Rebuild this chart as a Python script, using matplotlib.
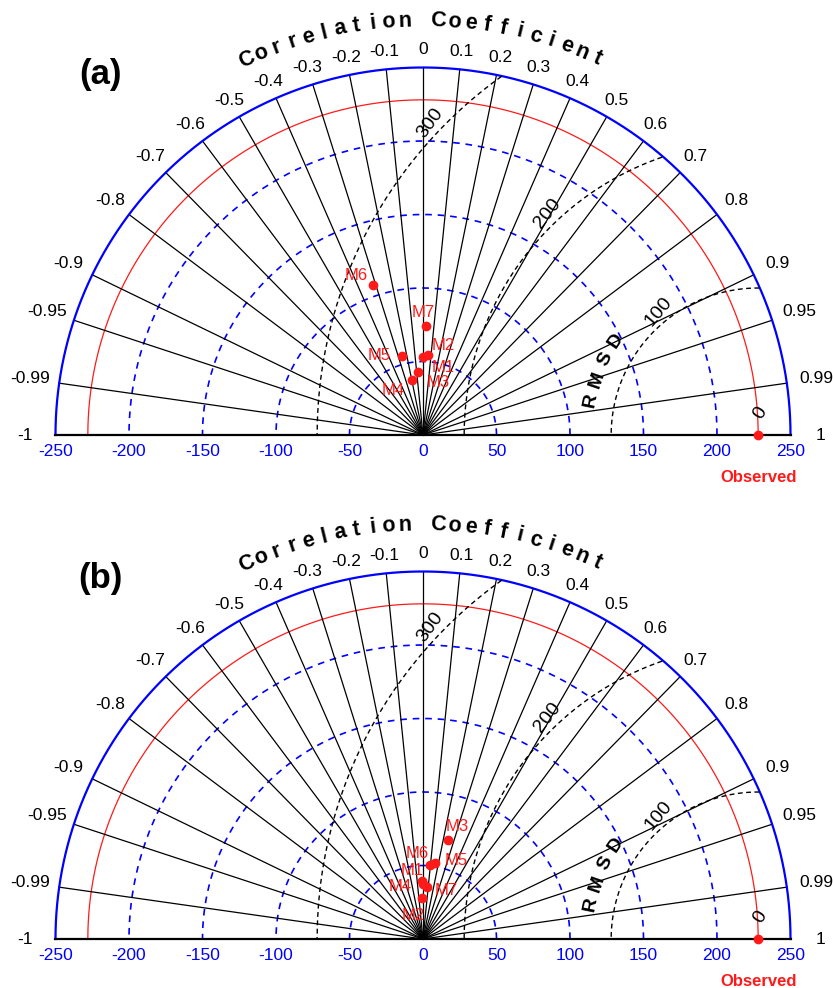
import numpy as np
import matplotlib
matplotlib.use("Agg")
import matplotlib.pyplot as plt

plt.rcParams['font.family'] = ['Liberation Sans', 'DejaVu Sans']

# data
models = ["M1", "M2", "M3", "M4", "M5", "M6", "M7"]
ref_std = 228.0

std_a = [52.8, 54.5, 43.1, 38.2, 55.9, 107.5, 74.4]
corr_a = [0.004, 0.059, -0.074, -0.202, -0.259, -0.316, 0.027]

std_b = [39.5, 27.7, 69.5, 37.4, 52.5, 50.5, 35.3]
corr_b = [-0.023, -0.018, 0.247, 0.005, 0.156, 0.095, 0.071]

corr_ticks = [-1, -0.99, -0.95, -0.9, -0.8, -0.7, -0.6, -0.5, -0.4, -0.3, -0.2, -0.1,
              0, 0.1, 0.2, 0.3, 0.4, 0.5, 0.6, 0.7, 0.8, 0.9, 0.95, 0.99, 1]
std_ticks = [-250, -200, -150, -100, -50, 0, 50, 100, 150, 200, 250]
std_rings = [50, 100, 150, 200]
rmsd_levels = [0, 100, 200, 300]

# label offsets in pixels (right, down)
offs_a = [(20, 10), (16, -10), (20, 11), (-18, 10), (-23, 0), (-17, -10), (-3, -13)]
offs_b = [(-9, -10), (-9, 17), (9, -14), (-23, 2), (21, -2), (-13, -12), (20, 3)]

R = 250.0
PX = 1.47  # pixels per data unit
BLUE = "#0000ff"
RED = "#ff1a1a"


def draw_panel(ax, std, corr, offs, tag):
    t = np.linspace(0, np.pi, 400)

    # std rings
    for r in std_rings:
        ax.plot(r * np.cos(t), r * np.sin(t), color=BLUE, lw=1.2, ls=(0, (4, 3.5)))
    ax.plot(ref_std * np.cos(t), ref_std * np.sin(t), color=RED, lw=0.9)

    # correlation spokes
    for c in corr_ticks:
        th = np.arccos(c)
        if abs(c) < 1:
            ax.plot([0, R * np.cos(th)], [0, R * np.sin(th)], color="black", lw=0.9)
        rl = 262 + 8.5 * abs(np.cos(th)) ** 3
        ax.text(rl * np.cos(th), rl * np.sin(th), f"{c:g}", ha="center", va="center",
                fontsize=12.5)

    ax.plot(R * np.cos(t), R * np.sin(t), color=BLUE, lw=1.6)
    ax.plot([-R, R], [0, 0], color="black", lw=1.6)

    # RMSD circles around the observed point
    tt = np.linspace(0, np.pi, 600)
    for lev in rmsd_levels[1:]:
        x = ref_std + lev * np.cos(tt)
        y = lev * np.sin(tt)
        m = x ** 2 + y ** 2 <= R ** 2
        ax.plot(x[m], y[m], color="black", lw=1.0, ls=(0, (3.5, 2.5)))

    lab_ang = [84, 129, 133.6, 136.4]
    lab_rot = [58, 50, 52, 54]
    for lev, a, rot in zip(rmsd_levels, lab_ang, lab_rot):
        d = lev + 8 if lev > 0 else 15
        a = np.radians(a)
        ax.text(ref_std + d * np.cos(a), d * np.sin(a), str(lev), rotation=rot,
                ha="center", va="center", fontsize=14)

    for ch, a in zip("RMSD", [168.4, 161.0, 153.5, 146.3]):
        ar = np.radians(a)
        ax.text(ref_std + 116 * np.cos(ar), 116 * np.sin(ar), ch, rotation=a - 90,
                ha="center", va="center", fontsize=14, fontweight="bold")

    # title along the arc
    title = "Correlation Coefficient"
    angs = np.linspace(115.2, 65.2, len(title))
    for ch, a in zip(title, angs):
        if ch == " ":
            continue
        ar = np.radians(a)
        ax.text(282 * np.cos(ar), 282 * np.sin(ar), ch, rotation=a - 90,
                ha="center", va="center", fontsize=15.5, fontweight="bold")

    # x tick labels
    for v in std_ticks:
        ax.text(v, -11, f"{v}", color=BLUE, ha="center", va="center", fontsize=12.5)

    # observed
    ax.plot([ref_std], [0], "o", color=RED, ms=6, clip_on=False, zorder=5)
    ax.text(ref_std, -29, "Observed", color=RED, ha="center", va="center",
            fontsize=12, fontweight="bold")

    # models
    for name, s, c, (dx, dy) in zip(models, std, corr, offs):
        th = np.arccos(c)
        x, y = s * np.cos(th), s * np.sin(th)
        ax.plot([x], [y], "o", color=RED, ms=6, zorder=5)
        ax.annotate(name, (x, y), xytext=(dx * 0.72, -dy * 0.72), textcoords="offset points",
                    ha="center", va="center", color=RED, fontsize=12, zorder=6)

    ax.text(-219.7, 245, tag, ha="center", va="center", fontsize=25, fontweight="bold")

    ax.set_xlim(-423 / PX, (833 - 423) / PX)
    ax.axis("off")


fig = plt.figure(figsize=(8.33, 9.88), dpi=100)

ax_a = fig.add_axes([0, 494 / 988, 1, 494 / 988])
draw_panel(ax_a, std_a, corr_a, offs_a, "(a)")
ax_a.set_ylim((435 - 494) / PX, 435 / PX)

ax_b = fig.add_axes([0, 0, 1, 494 / 988])
draw_panel(ax_b, std_b, corr_b, offs_b, "(b)")
ax_b.set_ylim((939 - 988) / PX, (939 - 494) / PX)

fig.savefig("out.png", dpi=100, facecolor="white")
